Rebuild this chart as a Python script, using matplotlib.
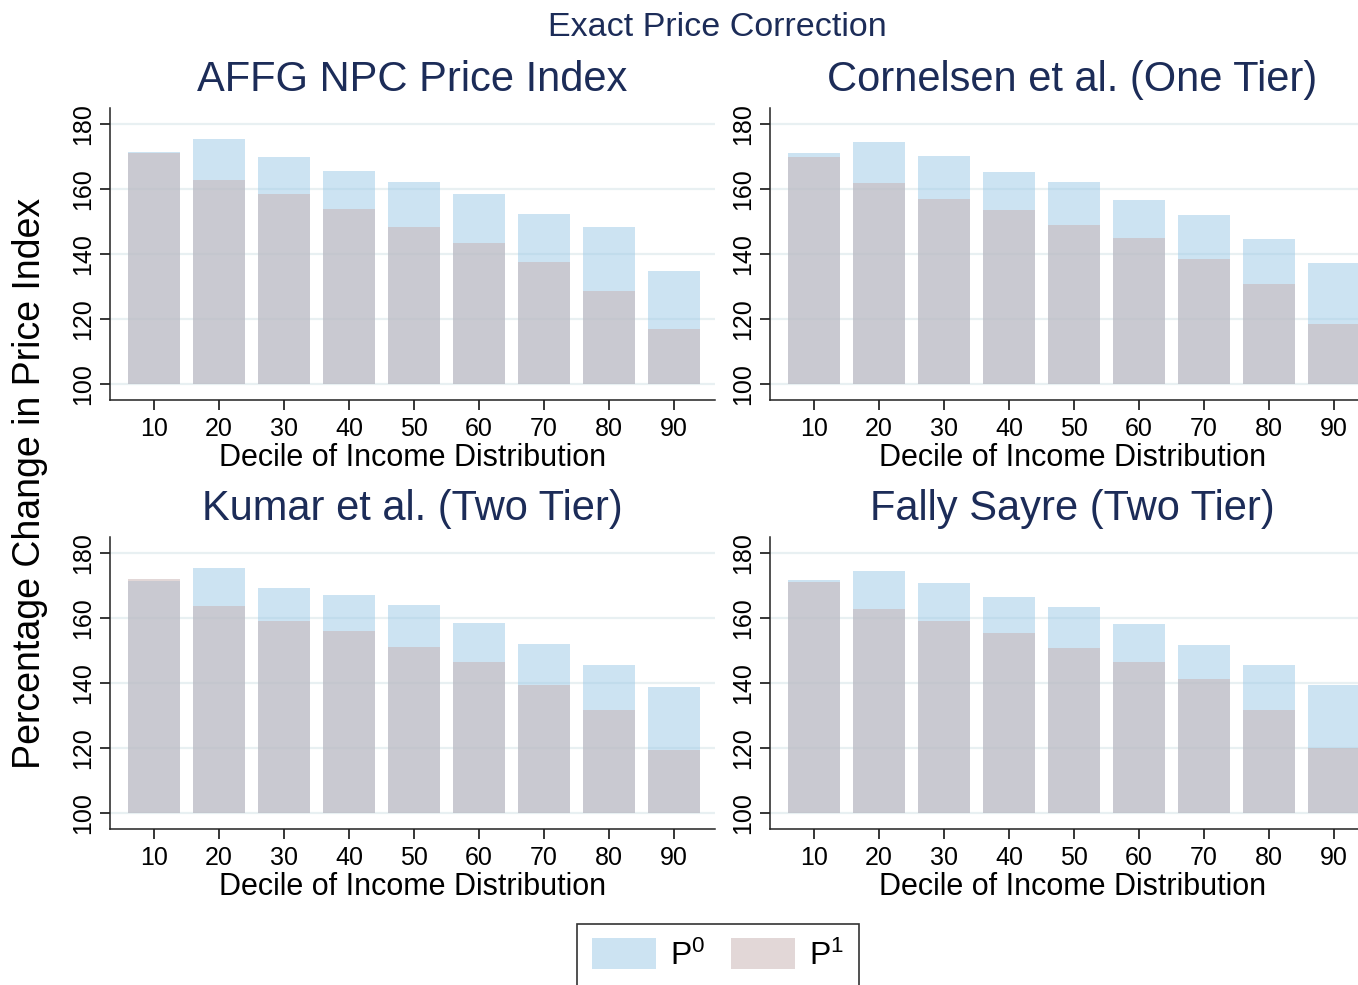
import matplotlib
matplotlib.use("Agg")
import matplotlib.pyplot as plt
from matplotlib.patches import Patch

plt.rcParams['font.family'] = ['Liberation Sans', 'DejaVu Sans']
plt.rcParams['mathtext.fontset'] = 'custom'
plt.rcParams['mathtext.rm'] = 'Liberation Sans'
plt.rcParams['mathtext.it'] = 'Liberation Sans'

deciles = [10, 20, 30, 40, 50, 60, 70, 80, 90]

titles = ["AFFG NPC Price Index", "Cornelsen et al. (One Tier)",
          "Kumar et al. (Two Tier)", "Fally Sayre (Two Tier)"]

affg_p0 = [171.4, 175.4, 169.8, 165.5, 162.2, 158.5, 152.3, 148.3, 134.8]
affg_p1 = [171.1, 162.8, 158.5, 153.8, 148.3, 143.4, 137.5, 128.6, 116.9]

corn_p0 = [171.1, 174.5, 170.2, 165.2, 162.2, 156.6, 152.0, 144.6, 137.2]
corn_p1 = [169.8, 161.8, 156.9, 153.5, 148.9, 144.9, 138.5, 130.8, 118.5]

kumar_p0 = [171.4, 175.4, 169.2, 167.1, 164.0, 158.5, 152.0, 145.5, 138.8]
kumar_p1 = [172.0, 163.7, 159.1, 156.0, 151.1, 146.5, 139.4, 131.7, 119.4]

fally_p0 = [171.7, 174.5, 170.8, 166.5, 163.4, 158.2, 151.7, 145.5, 139.4]
fally_p1 = [171.1, 162.8, 159.1, 155.4, 150.8, 146.5, 141.2, 131.7, 120.0]

series = [(affg_p0, affg_p1), (corn_p0, corn_p1),
          (kumar_p0, kumar_p1), (fally_p0, fally_p1)]

base = 100
yticks = [100, 120, 140, 160, 180]

c0 = (155/255, 201/255, 231/255)
c1 = (199/255, 177/255, 177/255)
a0 = 0.5
a1 = 0.5
navy = '#1c2c58'
gridc = '#e8f0f2'

W, H = 1358, 985
fig = plt.figure(figsize=(W/100, H/100), dpi=100)

# axes positions in pixels: (left, top, right, bottom)
boxes = [(110, 108, 715, 400), (770, 108, 1375, 400),
         (110, 537, 715, 829), (770, 537, 1375, 829)]

for (l, t, r, b), title, (p0, p1) in zip(boxes, titles, series):
    ax = fig.add_axes([l/W, 1 - b/H, (r-l)/W, (b-t)/H])
    ax.set_xlim(3.2, 96.3)
    ax.set_ylim(95.1, 184.9)
    ax.set_yticks(yticks)
    ax.set_xticks(deciles)
    ax.yaxis.grid(True, color=gridc, linewidth=1.6, zorder=0)
    ax.set_axisbelow(True)
    h0 = [v - base for v in p0]
    h1 = [v - base for v in p1]
    ax.bar(deciles, h0, bottom=base, width=8.0, color=c0, alpha=a0,
           linewidth=0, zorder=2)
    ax.bar(deciles, h1, bottom=base, width=8.0, color=c1, alpha=a1,
           linewidth=0, zorder=3)
    for s in ['top', 'right']:
        ax.spines[s].set_visible(False)
    for s in ['left', 'bottom']:
        ax.spines[s].set_linewidth(1.1)
        ax.spines[s].set_color('#222222')
    ax.tick_params(axis='y', labelsize=18, length=7, width=1.1,
                   labelrotation=90, pad=4)
    for lab in ax.get_yticklabels():
        lab.set_va('center')
    ax.tick_params(axis='x', labelsize=18, length=7, width=1.1, pad=5)
    ax.set_xlabel("Decile of Income Distribution", fontsize=22, labelpad=2)
    ax.set_title(title, fontsize=30, color=navy, pad=12)

fig.text(717/W, 1 - 28/H, "Exact Price Correction", fontsize=24.5,
         color=navy, ha='center', va='center')
fig.text(30/W, 1 - 483/H, "Percentage Change in Price Index", fontsize=27,
         rotation=90, ha='center', va='center')

handles = [Patch(facecolor=c0, alpha=a0, linewidth=0),
           Patch(facecolor=c1, alpha=a1, linewidth=0)]
leg = fig.legend(handles, [r'$\mathrm{P}^{0}$', r'$\mathrm{P}^{1}$'],
                 loc='upper center', bbox_to_anchor=(718/W, 1 - 924/H),
                 ncol=2, fontsize=23, frameon=True, fancybox=False,
                 edgecolor='black', handlelength=2.0, handleheight=1.1,
                 columnspacing=0.8, handletextpad=0.45, borderpad=0.45,
                 borderaxespad=0)
leg.get_frame().set_linewidth(1.2)

fig.savefig("out.png", dpi=100)
